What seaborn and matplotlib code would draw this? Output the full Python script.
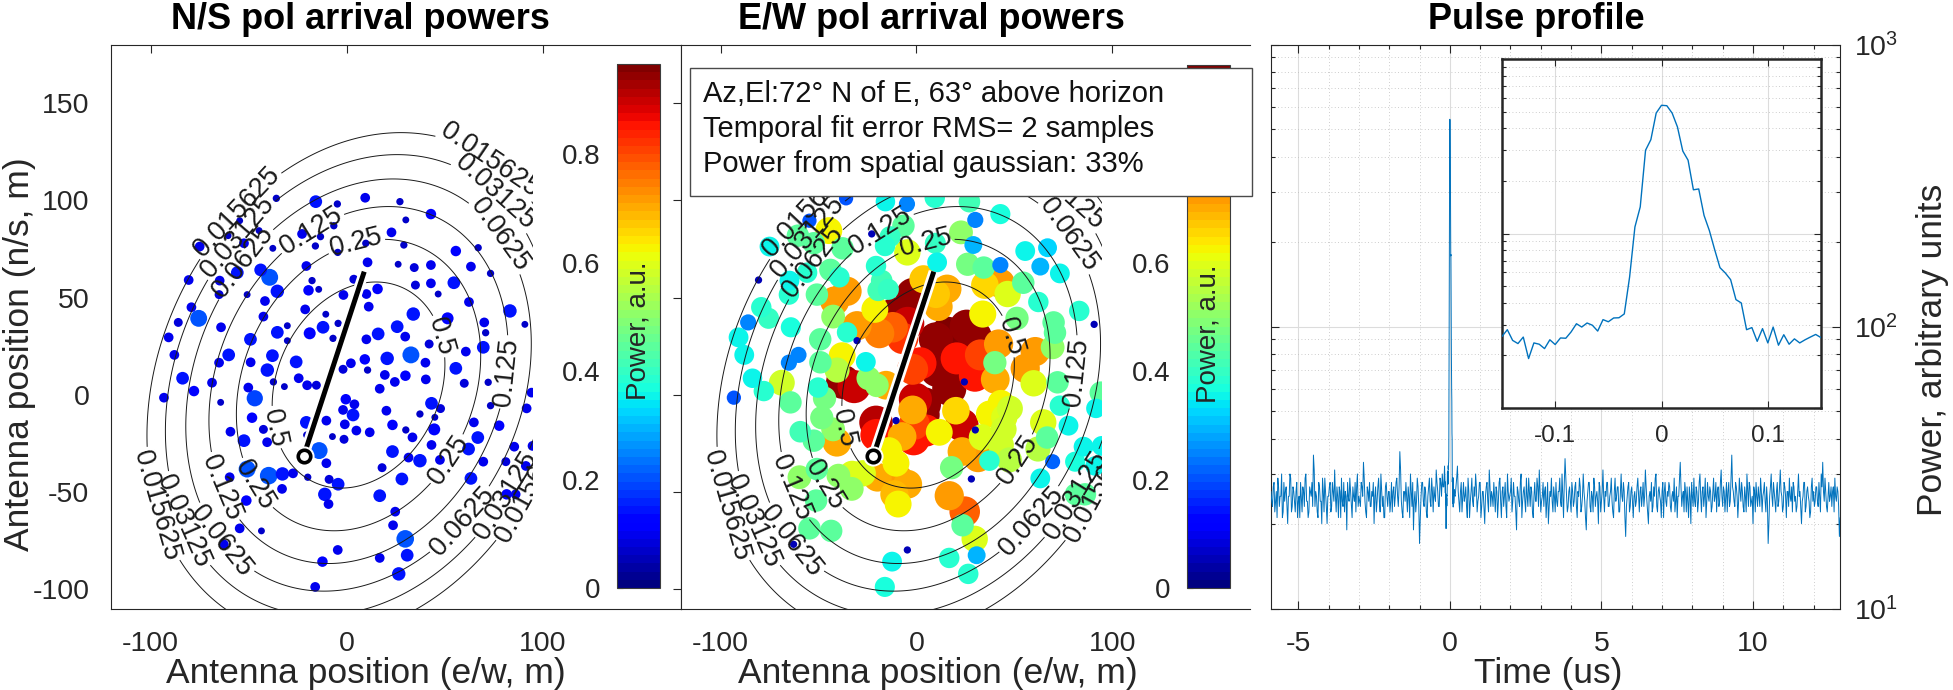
import numpy as np
import pandas as pd
import matplotlib
matplotlib.use("Agg")
import matplotlib as mpl
import matplotlib.pyplot as plt
from matplotlib.patches import Rectangle
from matplotlib.ticker import (MultipleLocator, FuncFormatter, LogLocator, NullFormatter)
import seaborn as sns

# ---------------------------------------------------------------- data
ant_x = [-35.9, -15.8, -4.8, 9.4, 27.1, 42.9, 30.1, 22.8, 29.1, -6.6,
         -22.8, -13.4, -16.0, -4.6, 9.7, 10.6, 26.2, 34.4, 42.9, 55.6,
         67.0, 63.3, 73.3, 54.6, 42.9, 35.0, 46.6, 62.3, 83.2, 90.8,
         70.1, 70.8, 69.6, 51.4, 33.9, 25.7, 16.0, 29.8, 42.0, 60.7,
         32.7, 20.6, 10.0, 9.2, 10.6, 2.1, -1.9, 19.4, 24.5, 29.9,
         40.1, 40.3, 55.6, 59.9, 16.8, 72.1, 73.3, 64.8, 77.7, 66.8,
         91.7, 94.2, 43.2, 47.8, 44.9, 37.3, 20.2, 23.3, 30.1, 33.5,
         44.6, 43.2, 47.5, 62.1, 37.3, 31.5, 23.3, 18.0, 28.1, 16.8,
         24.7, 23.6, 29.8, 30.8, 26.5, 16.8, 63.3, 69.6, 81.1, 85.4,
         81.5, 11.7, 4.9, -1.4, -7.3, -10.4, -1.0, 3.2, -1.9, -0.5,
         3.9, -10.4, -9.0, -4.4, -11.2, -9.3, -4.6, -12.4, -16.1, -14.1,
         -20.6, -20.4, -19.9, -27.4, -32.8, -39.8, -50.8, -40.6, -42.5, -52.4,
         -59.3, -48.3, -46.9, -50.2, -31.8, -37.4, -24.5, -20.2, -15.5, -25.8,
         -40.5, -49.0, -37.9, -35.4, -49.1, -30.3, -30.3, -18.9, -12.1, -7.0,
         -4.4, -10.7, -21.2, -19.5, -14.3, -17.7, -20.6, -1.7, 3.6, 10.0,
         11.2, 15.7, -41.7, -42.5, -35.4, -39.3, -43.9, -50.8, -55.8, -64.8,
         -65.1, -64.1, -60.2, -65.1, -68.7, -64.3, -77.9, -83.7, -87.9, -93.2,
         -90.8, -85.9, -79.2, -75.5, -80.6, -75.0, -60.5, -44.7, -37.7, -54.6,
         -52.4, -59.7, -51.2, -54.6, -62.7, -43.5, -33.0, 94.7, 91.3, 86.1]

ant_y = [101.0, 99.3, 98.1, 101.3, 99.3, 92.9, 89.9, 83.5, 77.0, 86.9,
         82.7, 81.3, 76.5, 73.2, 77.9, 68.1, 67.1, 65.4, 66.7, 73.9,
         75.6, 65.9, 62.4, 57.6, 57.3, 56.4, 51.8, 47.7, 43.1, 36.2,
         37.2, 31.9, 24.4, 39.3, 41.5, 35.0, 31.3, 29.9, 26.1, 22.2,
         20.5, 18.7, 28.5, 18.2, 12.7, 16.2, 13.1, 10.2, 6.6, 9.8,
         16.5, 7.9, 13.6, 5.9, 3.1, 6.4, -5.6, -14.2, -15.9, -22.0,
         -7.0, 1.1, -4.4, -7.1, -11.6, -9.9, -8.2, -15.5, -18.1, -21.9,
         -17.8, -25.8, -33.5, -27.9, -33.9, -32.3, -29.2, -37.5, -43.3, -51.9,
         -60.1, -67.1, -74.1, -82.5, -92.1, -83.9, -43.0, -34.4, -34.4, -26.7,
         -51.2, -19.3, -18.4, -22.9, -21.5, -13.3, -15.2, -10.4, -7.8, -2.3,
         -4.9, -35.2, -43.5, -46.0, -51.2, -56.2, -79.8, -85.8, -98.8, -28.7,
         -14.2, -20.7, -42.4, -40.4, -40.7, -41.6, -38.2, -24.4, -17.8, -23.6,
         -19.0, -11.8, -1.8, 3.7, 4.2, 6.6, 8.5, 4.9, 4.9, 16.9,
         12.7, 16.7, 20.1, 32.1, 28.5, 27.8, 35.5, 31.6, 34.7, 29.0,
         36.7, 41.4, 43.9, 53.7, 54.2, 58.7, 66.2, 51.3, 59.4, 51.8,
         45.3, 54.4, 48.2, 40.2, 53.2, 60.4, 64.2, 51.5, 62.8, 58.7,
         51.5, 34.7, 20.5, 16.5, 6.2, -3.9, 1.9, 8.5, 20.5, -1.5,
         29.5, 37.2, 45.0, 39.3, 59.0, 76.2, 81.8, 84.4, 75.3, 89.5,
         77.9, -42.4, -54.4, -68.7, -76.9, -70.0, -48.4, -26.3, -36.6, -51.2]

ns_power = [0.07, 0.14, 0.07, 0.10, 0.07, 0.11, 0.065, 0.10, 0.07, 0.07,
            0.10, 0.07, 0.07, 0.07, 0.07, 0.10, 0.065, 0.09, 0.10, 0.11,
            0.07, 0.10, 0.07, 0.14, 0.10, 0.09, 0.065, 0.10, 0.15, 0.065,
            0.10, 0.07, 0.14, 0.13, 0.15, 0.14, 0.14, 0.10, 0.09, 0.10,
            0.20, 0.15, 0.10, 0.11, 0.07, 0.10, 0.09, 0.10, 0.10, 0.11,
            0.10, 0.10, 0.14, 0.09, 0.10, 0.07, 0.07, 0.10, 0.11, 0.14,
            0.10, 0.10, 0.14, 0.09, 0.065, 0.07, 0.10, 0.11, 0.07, 0.10,
            0.13, 0.10, 0.10, 0.14, 0.15, 0.10, 0.14, 0.09, 0.14, 0.14,
            0.10, 0.10, 0.21, 0.14, 0.15, 0.10, 0.14, 0.10, 0.09, 0.10,
            0.11, 0.10, 0.10, 0.09, 0.065, 0.10, 0.10, 0.14, 0.10, 0.11,
            0.10, 0.10, 0.09, 0.14, 0.15, 0.10, 0.10, 0.11, 0.10, 0.20,
            0.14, 0.07, 0.07, 0.10, 0.15, 0.21, 0.20, 0.10, 0.09, 0.14,
            0.10, 0.11, 0.19, 0.10, 0.065, 0.07, 0.10, 0.10, 0.09, 0.14,
            0.15, 0.10, 0.14, 0.14, 0.14, 0.065, 0.065, 0.13, 0.14, 0.07,
            0.07, 0.065, 0.10, 0.11, 0.065, 0.07, 0.10, 0.10, 0.09, 0.10,
            0.10, 0.11, 0.10, 0.10, 0.15, 0.20, 0.14, 0.065, 0.14, 0.10,
            0.09, 0.10, 0.14, 0.10, 0.10, 0.065, 0.11, 0.14, 0.10, 0.10,
            0.10, 0.09, 0.10, 0.20, 0.10, 0.10, 0.065, 0.065, 0.065, 0.065,
            0.10, 0.10, 0.11, 0.10, 0.10, 0.065, 0.10, 0.10, 0.10, 0.10]

ew_power = [0.20, 0.35, 0.25, 0.38, 0.42, 0.37, 0.25, 0.50, 0.30, 0.45,
            0.06, 0.40, 0.38, 0.60, 0.40, 0.36, 0.48, 0.45, 0.25, 0.36,
            0.33, 0.30, 0.36, 0.45, 0.72, 0.65, 0.60, 0.38, 0.38, 0.06,
            0.45, 0.45, 0.50, 0.48, 0.63, 0.95, 0.96, 0.95, 0.72, 0.72,
            0.80, 0.85, 0.95, 0.95, 0.94, 0.85, 0.80, 0.96, 0.06, 0.85,
            0.48, 0.70, 0.72, 0.60, 0.95, 0.45, 0.38, 0.60, 0.36, 0.45,
            0.35, 0.45, 0.62, 0.58, 0.60, 0.62, 0.65, 0.90, 0.06, 0.60,
            0.58, 0.58, 0.55, 0.55, 0.38, 0.72, 0.70, 0.48, 0.06, 0.72,
            0.78, 0.45, 0.60, 0.30, 0.38, 0.38, 0.36, 0.22, 0.37, 0.36,
            0.45, 0.62, 0.85, 0.85, 0.70, 0.06, 0.80, 0.95, 0.70, 0.90,
            0.95, 0.62, 0.72, 0.70, 0.68, 0.62, 0.06, 0.36, 0.37, 0.62,
            0.92, 0.85, 0.70, 0.60, 0.60, 0.50, 0.45, 0.70, 0.50, 0.45,
            0.42, 0.48, 0.48, 0.38, 0.90, 0.95, 0.50, 0.50, 0.70, 0.36,
            0.55, 0.45, 0.62, 0.38, 0.45, 0.06, 0.72, 0.75, 0.78, 0.82,
            0.90, 0.95, 0.62, 0.42, 0.40, 0.42, 0.38, 0.95, 0.67, 0.67,
            0.70, 0.70, 0.72, 0.50, 0.72, 0.38, 0.45, 0.45, 0.38, 0.36,
            0.38, 0.37, 0.25, 0.25, 0.58, 0.45, 0.38, 0.35, 0.36, 0.20,
            0.36, 0.25, 0.38, 0.40, 0.06, 0.36, 0.45, 0.62, 0.45, 0.20,
            0.45, 0.50, 0.45, 0.45, 0.06, 0.45, 0.50, 0.36, 0.35, 0.45]

power_max = 0.966
power_ticks = [0, 0.2, 0.4, 0.6, 0.8]

# fitted spatial gaussian (contours)
gauss_center = (6.0, 5.0)
gauss_sigma = (37.4, 45.0)
gauss_rho = 0.2
contour_levels = [0.015625, 0.03125, 0.0625, 0.125, 0.25, 0.5]
contour_level_text = ["0.015625", "0.03125", "0.0625", "0.125", "0.25", "0.5"]

# arrival direction line
dir_line_x = [-21.9, 8.9]
dir_line_y = [-31.3, 63.3]

info_lines = ["Az,El:72\u00b0 N of E, 63\u00b0 above horizon",
              "Temporal fit error RMS= 2 samples",
              "Power from spatial gaussian: 33%"]

# pulse profile: background samples, every 0.05 us from -5.9 us ...
noise_t0, noise_dt = -5.9, 0.05
noise_power = [
    26, 23, 28, 24, 21, 27, 25, 30, 22, 24, 27, 20, 25, 29, 23, 26, 22, 28, 24, 21,
    25, 27, 23, 30, 24, 22, 26, 28, 35, 23, 25, 21, 27, 24, 29, 22, 26, 20, 25, 28,
    23, 26, 31, 22, 25, 27, 21, 24, 28, 26, 19, 25, 29, 23, 27, 24, 22, 30, 25, 23,
    27, 33, 24, 21, 26, 28, 23, 25, 20, 27, 24, 29, 22, 26, 25, 21, 28, 23, 26, 24,
    22, 27, 25, 29, 23, 36, 24, 21, 26, 28, 22, 25, 30, 23, 19, 26, 24, 27, 17, 25,
    28, 23, 26, 21, 27, 24, 29, 22, 25, 31, 26, 23, 28, 30, 27, 29, 26, 24, 27, 25,
    30, 29, 27, 32, 24, 26, 22, 28, 25, 23, 29, 21, 26, 24, 27, 30, 22, 25, 28, 23,
    26, 20, 27, 24, 31, 23, 25, 28, 22, 26, 24, 29, 21, 27, 25, 23, 30, 24, 26, 22,
    28, 25, 19, 26, 23, 30, 24, 27, 22, 25, 29, 23, 26, 21, 28, 24, 27, 31, 22, 25,
    23, 27, 24, 20, 26, 29, 22, 25, 28, 23, 26, 24, 30, 21, 34, 25, 23, 27, 22, 26,
    24, 28, 21, 25, 27, 23, 30, 24, 19, 26, 28, 22, 25, 29, 23, 26, 20, 27, 24, 31,
    22, 25, 28, 23, 26, 24, 21, 29, 25, 27, 22, 30, 24, 26, 18, 25, 28, 23, 27, 21,
    26, 24, 29, 22, 27, 25, 23, 31, 24, 20, 26, 28, 23, 25, 30, 22, 27, 24, 26, 21,
    28, 23, 25, 27, 22, 26, 29, 24, 21, 25, 33, 23, 26, 28, 22, 24, 27, 20, 25, 29,
    23, 26, 24, 30, 22, 27, 25, 21, 28, 24, 26, 23, 29, 25, 22, 27, 24, 31, 23, 26,
    25, 22, 28, 24, 35, 26, 23, 27, 21, 29, 24, 26, 22, 25, 30, 23, 27, 24, 20, 26,
    28, 23, 25, 29, 22, 26, 24, 27, 17, 25, 30, 23, 26, 22, 28, 24, 31, 25, 23, 27,
    21, 26, 29, 24, 22, 27, 25, 23, 30, 26, 20, 25, 28, 23, 27, 24, 22, 29, 26, 24,
    27, 23, 25, 30, 33, 24, 26, 22, 28, 25, 23, 27, 29, 24, 26, 18]

# ... and the in-between samples, every 0.05 us from -5.875 us
noise_mid_t0 = -5.875
noise_power_mid = [
    24, 27, 22, 26, 29, 23, 25, 21, 28, 26, 23, 25, 30, 22, 27, 24, 26, 21, 25, 28,
    22, 26, 29, 24, 21, 27, 25, 23, 31, 26, 22, 28, 24, 20, 26, 29, 23, 25, 27, 22,
    28, 24, 25, 27, 21, 26, 29, 23, 22, 25, 28, 24, 26, 21, 25, 28, 27, 23, 24, 28,
    25, 29, 22, 27, 24, 23, 26, 28, 25, 22, 27, 24, 30, 23, 21, 27, 25, 26, 22, 28,
    26, 23, 28, 25, 27, 31, 22, 26, 24, 25, 27, 21, 26, 28, 24, 22, 29, 23, 21, 28,
    24, 27, 22, 25, 29, 23, 26, 27, 24, 28, 23, 29, 25, 27, 32, 30, 28, 26, 28, 30,
    27, 25, 29, 26, 22, 28, 25, 24, 27, 21, 26, 24, 29, 23, 25, 27, 24, 28, 21, 26,
    23, 25, 28, 22, 27, 26, 23, 25, 27, 21, 28, 24, 26, 23, 28, 21, 26, 25, 29, 24,
    25, 22, 27, 24, 28, 21, 26, 24, 29, 23, 26, 27, 22, 25, 24, 29, 23, 26, 24, 28,
    26, 21, 28, 23, 25, 24, 27, 22, 24, 26, 29, 23, 25, 28, 29, 22, 26, 24, 28, 23,
    27, 23, 26, 29, 22, 25, 26, 21, 24, 28, 23, 26, 22, 27, 25, 24, 28, 22, 26, 25,
    26, 28, 23, 25, 29, 22, 26, 24, 27, 22, 26, 25, 28, 21, 23, 27, 22, 26, 24, 25,
    23, 27, 25, 26, 23, 28, 25, 27, 22, 25, 24, 22, 27, 29, 23, 26, 25, 21, 28, 26,
    24, 26, 28, 23, 25, 24, 22, 27, 25, 29, 27, 25, 22, 26, 27, 21, 25, 28, 23, 24,
    27, 22, 28, 25, 26, 23, 29, 24, 25, 27, 22, 26, 24, 28, 26, 23, 28, 25, 27, 22,
    28, 26, 23, 29, 27, 24, 28, 25, 24, 26, 28, 23, 27, 22, 26, 28, 23, 25, 27, 22,
    25, 27, 23, 26, 25, 28, 22, 24, 20, 27, 25, 28, 24, 26, 23, 27, 26, 22, 28, 25,
    26, 23, 25, 27, 28, 24, 22, 26, 25, 23, 24, 28, 22, 26, 25, 21, 27, 24, 23, 27,
    24, 28, 22, 27, 26, 29, 23, 25, 24, 27, 26, 22, 25, 27, 23, 21]

# pulse samples (every 0.005 us from -0.15 us)
pulse_t0, pulse_dt = -0.15, 0.005
pulse_power = [25.7, 28.1, 24.4, 23.4, 25.5, 19.2, 23.6, 23.2, 21.9, 24.6,
               23.1, 25.2, 25.1, 27.3, 30.4, 29.1, 30.7, 29.8, 27.6, 32.1,
               31.2, 32.8, 32.9, 34.6, 56.3, 109, 142, 300, 345, 490,
               543, 540, 490, 408, 297, 263, 178, 180, 127, 104,
               80.8, 63.7, 59.4, 54.4, 41.8, 40.0, 28.1, 28.9, 24.1, 28.5,
               23.6, 29.1, 22.9, 26.3, 23.2, 24.9, 23.6, 24.6, 25.5, 26.4, 25.3]

# ---------------------------------------------------------------- style
sns.set_theme(style="white")
plt.rcParams.update({
    "font.family": ["Liberation Sans", "DejaVu Sans"],
    "axes.unicode_minus": False,
    "axes.edgecolor": "#262626",
    "axes.linewidth": 0.8,
    "axes.facecolor": "white",
    "figure.facecolor": "white",
    "xtick.color": "#262626",
    "ytick.color": "#262626",
})

W, H = 1953, 690
fig = plt.figure(figsize=(W / 100, H / 100), dpi=100)


def rect(l, t, r, b):
    return [l / W, 1 - b / H, (r - l) / W, (b - t) / H]


cmap = mpl.colormaps["jet"].resampled(64)
norm = mpl.colors.Normalize(0, power_max)
TXT = "#262626"

XLIM = (-120.2, 170.4)
YLIM = (-109.9, 180.1)
CLIP_X = 95.0

# gaussian surface for contours
gx = np.linspace(-130, 180, 621)
gy = np.linspace(-120, 190, 621)
GX, GY = np.meshgrid(gx, gy)
cx, cy = gauss_center
sx, sy = gauss_sigma
rho = gauss_rho
DX = (GX - cx) / sx
DY = (GY - cy) / sy
GZ = np.exp(-0.5 * (DX ** 2 - 2 * rho * DX * DY + DY ** 2) / (1 - rho ** 2))

label_spots = [(0.015625, 60), (0.03125, 55), (0.0625, 47),
               (0.015625, 125), (0.03125, 129), (0.0625, 133), (0.125, 107), (0.25, 91),
               (0.5, 31), (0.125, 5),
               (0.5, 207), (0.25, 224), (0.125, 217), (0.0625, 229), (0.03125, 218), (0.015625, 211),
               (0.25, -40), (0.0625, -53), (0.03125, -37), (0.015625, -32)]


def spot_xy(level, ang):
    d = np.sqrt(-2 * np.log(level))
    ux, uy = np.cos(np.radians(ang)), np.sin(np.radians(ang))
    a, b = ux / sx, uy / sy
    q = (a * a - 2 * rho * a * b + b * b) / (1 - rho ** 2)
    r = d / np.sqrt(q)
    return (cx + r * ux, cy + r * uy)


label_positions = [spot_xy(l, a) for l, a in label_spots]
fmt = dict(zip(contour_levels, contour_level_text))


def array_panel(ax, power, size_scale, size_gamma, label_ymax):
    df = pd.DataFrame({"x": ant_x, "y": ant_y, "p": power})
    df = df.sort_values("p", ascending=False, kind="stable").reset_index(drop=True)
    sizes = size_scale * df["p"].to_numpy() ** size_gamma
    sns.scatterplot(data=df, x="x", y="y", hue="p", palette=cmap, hue_norm=norm,
                    s=sizes, linewidth=0, edgecolor="none", legend=False,
                    ax=ax, zorder=2)
    pts = ax.collections[-1]
    ax.set_xlim(*XLIM)
    ax.set_ylim(*YLIM)
    clip = Rectangle((XLIM[0], YLIM[0]), CLIP_X - XLIM[0], YLIM[1] - YLIM[0],
                     transform=ax.transData)
    pts.set_clip_path(clip)
    cs = ax.contour(GX, GY, GZ, levels=contour_levels, colors="k",
                    linewidths=0.7, zorder=3)
    spots = [p for p in label_positions if p[1] < label_ymax]
    texts = ax.clabel(cs, levels=contour_levels, manual=spots, fmt=fmt,
                      fontsize=19.5, inline=True, inline_spacing=3)
    cs.set_clip_path(clip)
    for t in texts:
        t.set_clip_path(clip)
        t.set_color("k")
    # arrival direction line
    ax.plot(dir_line_x, dir_line_y, color="white", lw=7.5, solid_capstyle="butt", zorder=6)
    ax.plot(dir_line_x, dir_line_y, color="black", lw=3.6, solid_capstyle="butt", zorder=7)
    ax.plot(dir_line_x[:1], dir_line_y[:1], "o", ms=9, mfc="white", mec="white", mew=5.5, zorder=8)
    ax.plot(dir_line_x[:1], dir_line_y[:1], "o", ms=9, mfc="white", mec="black", mew=2.6, zorder=9)
    ax.set_xlabel("")
    ax.set_ylabel("")
    ax.set_xticks([-100, 0, 100])
    ax.set_yticks([-100, -50, 0, 50, 100, 150])


ax1 = fig.add_axes(rect(111, 44.5, 681, 608.5))
ax2 = fig.add_axes(rect(681, 44.5, 1250, 608.5))
ax3 = fig.add_axes(rect(1271, 44.5, 1840, 608.5))

array_panel(ax1, ns_power, 1950, 1.6, 1e9)
array_panel(ax2, ew_power, 640, 1.12, 110)

ax1.tick_params(direction="in", length=5.5, width=0.8, labelsize=20.5, colors=TXT,
                top=True, right=True, pad=16)
ax1.tick_params(axis="y", pad=15.5)
ax2.tick_params(direction="in", length=5.5, width=0.8, labelsize=20.5, colors=TXT,
                top=True, left=False, right=False, labelleft=False, pad=16)
ax2.spines["right"].set_visible(False)


def add_cbar(l, t, r, b, label_center, shown_ticks):
    cax = fig.add_axes(rect(l, t, r, b))
    cb = fig.colorbar(mpl.cm.ScalarMappable(norm=norm, cmap=cmap), cax=cax)
    cb.set_ticks(shown_ticks)
    cax.yaxis.set_major_formatter(FuncFormatter(lambda v, _: f"{v:g}"))
    cax.yaxis.set_ticks_position("left")
    cax.tick_params(axis="y", direction="in", length=4.5, width=0.8, pad=12,
                    labelsize=20, colors=TXT)
    cax.minorticks_off()
    cb.outline.set_edgecolor("#3c3c3c")
    cb.outline.set_linewidth(0.8)
    fig.text(label_center[0] / W, 1 - label_center[1] / H, "Power, a.u.",
             rotation=90, ha="center", va="center", fontsize=20, color=TXT)


add_cbar(617, 64, 660, 588, (638.5, 331), power_ticks)
# the top tick of the second colour bar sits under the info box
add_cbar(1187, 65, 1230, 588, (1208.5, 334), power_ticks[:-1])

# info box over panel 2
fig.add_artist(Rectangle((690 / W, 1 - 196 / H), 562 / W, 128 / H,
                         transform=fig.transFigure, facecolor="white",
                         edgecolor="#4a4a4a", linewidth=1.0, zorder=5))
for line, base in zip(info_lines, [102, 137, 172]):
    fig.text(703 / W, 1 - base / H, line, fontsize=21, ha="left", va="baseline",
             color="#111111", zorder=6)

# ---------------------------------------------------------------- pulse profile
noise_t = np.concatenate([noise_t0 + noise_dt * np.arange(len(noise_power)),
                          noise_mid_t0 + noise_dt * np.arange(len(noise_power_mid))])
noise_p = np.concatenate([np.asarray(noise_power, float), np.asarray(noise_power_mid, float)])
pulse_t = pulse_t0 + pulse_dt * np.arange(len(pulse_power))
keep = np.abs(noise_t) > 0.16
trace_t = np.concatenate([noise_t[keep], pulse_t])
trace_p = np.concatenate([noise_p[keep], np.asarray(pulse_power, float)])

sns.lineplot(x=trace_t, y=trace_p, ax=ax3, color="#0072BD", lw=0.7,
             estimator=None, errorbar=None, sort=True, zorder=3)
ax3.set_yscale("log")
ax3.set_ylim(10, 1000)
ax3.set_xlim(-5.9, 12.87)
ax3.set_xlabel("")
ax3.set_ylabel("")
ax3.xaxis.set_major_locator(MultipleLocator(5))
ax3.xaxis.set_minor_locator(MultipleLocator(1))
ax3.xaxis.set_major_formatter(FuncFormatter(lambda v, _: f"{v:g}"))
ax3.yaxis.set_major_locator(LogLocator(base=10))
ax3.yaxis.set_minor_locator(LogLocator(base=10, subs=np.arange(2, 10)))
ax3.yaxis.set_minor_formatter(NullFormatter())
ax3.grid(which="major", color="#dcdcdc", lw=0.8, ls="-")
ax3.grid(which="minor", color="#bdbdbd", lw=0.6, ls=(0, (1, 3)))
ax3.set_axisbelow(True)
ax3.tick_params(which="both", direction="in", top=True, bottom=True, left=True,
                right=True, labelleft=False, labelright=True, colors=TXT, width=0.8)
ax3.tick_params(which="major", length=5.5, labelsize=20.5)
ax3.tick_params(which="minor", length=3)
ax3.tick_params(axis="x", pad=16)
ax3.tick_params(axis="y", pad=10)

# inset
axi = fig.add_axes(rect(1502, 59, 1821, 408))
sns.lineplot(x=pulse_t, y=pulse_power, ax=axi, color="#0072BD", lw=1.0,
             estimator=None, errorbar=None, zorder=3)
axi.set_yscale("log")
axi.set_ylim(10, 1000)
axi.set_xlim(-0.15, 0.15)
axi.set_xlabel("")
axi.set_ylabel("")
axi.set_xticks([-0.1, 0, 0.1])
axi.xaxis.set_major_formatter(FuncFormatter(lambda v, _: f"{v:g}"))
axi.yaxis.set_major_locator(LogLocator(base=10))
axi.yaxis.set_minor_locator(LogLocator(base=10, subs=np.arange(2, 10)))
axi.yaxis.set_minor_formatter(NullFormatter())
axi.grid(which="major", color="#dcdcdc", lw=0.8, ls="-")
axi.grid(which="minor", axis="y", color="#bdbdbd", lw=0.6, ls=(0, (1, 3)))
axi.set_axisbelow(True)
axi.tick_params(which="both", direction="in", top=True, bottom=True, left=True,
                right=True, labelleft=False, colors=TXT, width=0.8)
axi.tick_params(which="major", length=5, labelsize=17.5, pad=12)
axi.tick_params(which="minor", length=3)
for s in axi.spines.values():
    s.set_linewidth(1.8)
    s.set_edgecolor("#262626")

# ---------------------------------------------------------------- titles & labels
for txt, xc in [("N/S pol arrival powers", 360), ("E/W pol arrival powers", 931),
                ("Pulse profile", 1536)]:
    fig.text(xc / W, 1 - 29 / H, txt, fontsize=26, fontweight="bold",
             ha="center", va="baseline", color="black")

for txt, xc in [("Antenna position (e/w, m)", 366), ("Antenna position (e/w, m)", 938),
                ("Time (us)", 1548)]:
    fig.text(xc / W, 1 - 683 / H, txt, fontsize=25.5, ha="center", va="baseline", color=TXT)

fig.text(29.5 / W, 1 - 354 / H, "Antenna position (n/s, m)", fontsize=25.5, rotation=90,
         rotation_mode="anchor", ha="center", va="baseline", color=TXT)
fig.text(1942 / W, 1 - 350 / H, "Power, arbitrary units", fontsize=25.5, rotation=90,
         rotation_mode="anchor", ha="center", va="baseline", color=TXT)

fig.savefig("out.png", dpi=100)
